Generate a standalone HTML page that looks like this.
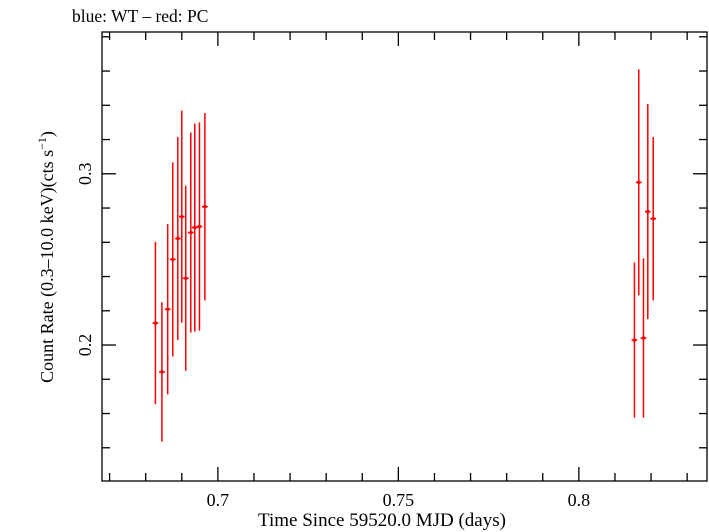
<!DOCTYPE html>
<html><head><meta charset="utf-8"><style>
html,body{margin:0;padding:0;background:#fff;}
svg{display:block;font-family:"Liberation Serif",serif;}
</style></head><body>
<svg id="chart" width="709" height="532" viewBox="0 0 709 532" xmlns="http://www.w3.org/2000/svg">
<text x="72" y="22" font-size="17.5">blue: WT – red: PC</text>
<rect x="102" y="32" width="605" height="449" fill="none" stroke="#000" stroke-width="1.3"/>
<g id="ticks"></g>
<g id="marks"></g>
<text x="382" y="526" font-size="19" text-anchor="middle">Time Since 59520.0 MJD (days)</text>
<text transform="translate(53,257) rotate(-90)" font-size="18" text-anchor="middle">Count Rate (0.3–10.0 keV)(cts s<tspan font-size="12" dy="-7">−1</tspan><tspan dy="7">)</tspan></text>
</svg>
<script>
const times=[0.6827,0.6845,0.6861,0.6875,0.6889,0.6900,0.6911,0.6925,0.6936,0.6949,0.6964,0.8154,0.8166,0.8179,0.8191,0.8206];
const rates=[0.2128,0.1843,0.2209,0.2500,0.2622,0.2750,0.2390,0.2657,0.2686,0.2692,0.2808,0.2029,0.2950,0.2041,0.2779,0.2738];
const errs=[0.0474,0.0407,0.0497,0.0567,0.0593,0.0619,0.0540,0.0584,0.0608,0.0608,0.0547,0.0453,0.0660,0.0465,0.0628,0.0477];
const xerr=0.0008;
const xMajor=[0.7,0.75,0.8];
const xMajorLabels=["0.7","0.75","0.8"];
const yMajor=[0.2,0.3];
const yMajorLabels=["0.2","0.3"];
const X0=102,X1=707,Y0=32,Y1=481;
const xmin=0.6679,xmax=0.8355,ymin=0.1206,ymax=0.3828;
const sx=v=>X0+(v-xmin)/(xmax-xmin)*(X1-X0);
const sy=v=>Y1-(v-ymin)/(ymax-ymin)*(Y1-Y0);
const NS="http://www.w3.org/2000/svg";
function mk(tag,attrs,parent){const e=document.createElementNS(NS,tag);for(const k in attrs)e.setAttribute(k,attrs[k]);parent.appendChild(e);return e;}
const tg=document.getElementById('ticks');
for(let i=Math.ceil(xmin*100);i<=Math.floor(xmax*100);i++){
  const v=i/100,x=sx(v);const major=xMajor.some(m=>Math.abs(m-v)<1e-9);const L=major?14:8;
  const a=mk('line',{x1:x,x2:x,y1:Y1,y2:Y1-L,stroke:'#000','stroke-width':1.3},tg);
  
  
  const b=mk('line',{x1:x,x2:x,y1:Y0,y2:Y0+L,stroke:'#000','stroke-width':1.3},tg);
  
  
}
xMajor.forEach((v,i)=>{const t=mk('text',{x:sx(v),y:506,'font-size':18,'text-anchor':'middle'},tg);t.textContent=xMajorLabels[i];
  
  });
for(let i=Math.ceil(ymin*50);i<=Math.floor(ymax*50);i++){
  const v=i/50,y=sy(v);const major=yMajor.some(m=>Math.abs(m-v)<1e-9);const L=major?14:8;
  const a=mk('line',{x1:X0,x2:X0+L,y1:y,y2:y,stroke:'#000','stroke-width':1.3},tg);
  
  
  const b=mk('line',{x1:X1,x2:X1-L,y1:y,y2:y,stroke:'#000','stroke-width':1.3},tg);
  
  
}
yMajor.forEach((v,i)=>{const t=mk('text',{transform:`translate(91,${sy(v)}) rotate(-90)`,'font-size':18,'text-anchor':'middle'},tg);t.textContent=yMajorLabels[i];
  
  });
const mg=document.getElementById('marks');
times.forEach((t,i)=>{
  const g=mk('g',{},mg);
  
  
  const x=sx(t),y=sy(rates[i]);
  mk('line',{x1:x,x2:x,y1:sy(rates[i]+errs[i]),y2:sy(rates[i]-errs[i]),stroke:'#f00','stroke-width':1.5},g);
  mk('line',{x1:sx(t-xerr),x2:sx(t+xerr),y1:y,y2:y,stroke:'#f00','stroke-width':1.5},g);
  mk('path',{d:`M${x-2.5},${y}L${x},${y-2.5}L${x+2.5},${y}L${x},${y+2.5}Z`,fill:'#f00'},g);
});
</script>
</body></html>
